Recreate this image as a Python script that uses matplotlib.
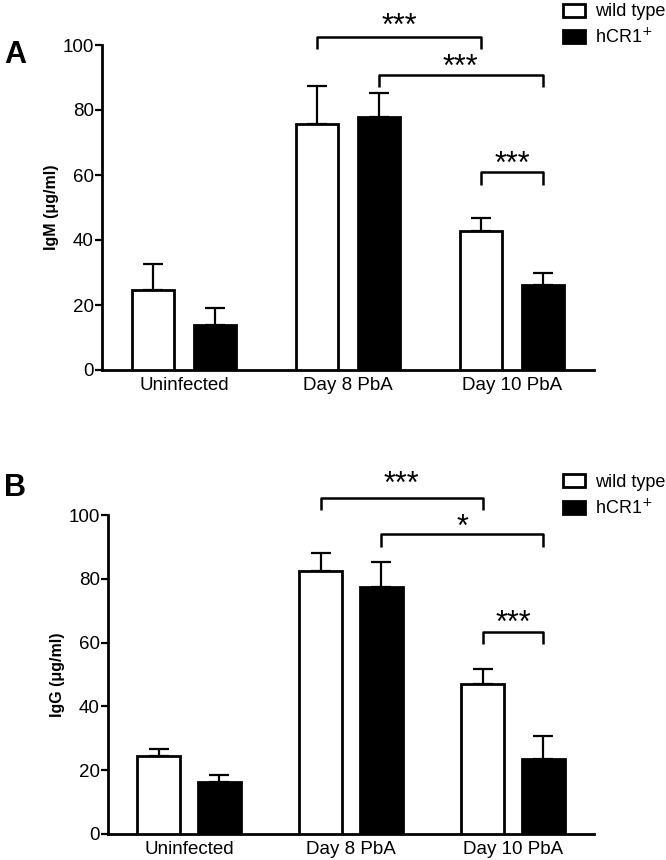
import matplotlib
matplotlib.use("Agg")
import matplotlib.pyplot as plt
import matplotlib.transforms as mtransforms
import numpy as np
from matplotlib.patches import Patch

plt.rcParams['font.family'] = ['Liberation Sans', 'DejaVu Sans']

categories = ["Uninfected", "Day 8 PbA", "Day 10 PbA"]
series = ["wild type", "hCR1$^{+}$"]

igm_wt = [24.6, 75.8, 42.9]
igm_wt_err = [8.0, 11.6, 3.8]
igm_hcr = [13.8, 77.9, 26.3]
igm_hcr_err = [5.4, 7.2, 3.4]

igg_wt = [24.5, 82.5, 47.0]
igg_wt_err = [2.3, 5.5, 4.7]
igg_hcr = [16.2, 77.3, 23.6]
igg_hcr_err = [2.2, 7.9, 7.2]

# significance annotations: (group_a, series_a, group_b, series_b, label)
sig_pairs = [(1, 0, 2, 0, "***"), (1, 1, 2, 1, "***"), (2, 0, 2, 1, "***")]
sig_pairs_b = [(1, 0, 2, 0, "***"), (1, 1, 2, 1, "*"), (2, 0, 2, 1, "***")]

W, H = 666, 860
fig = plt.figure(figsize=(W / 100, H / 100), dpi=100)
axA = fig.add_axes([102 / W, 1 - 370 / H, (594 - 102) / W, (370 - 45) / H])
axB = fig.add_axes([108 / W, 1 - 834 / H, (594 - 108) / W, (834 - 515) / H])

width = 0.26
offset = 0.188
lw = 2.0


def draw(ax, wt, wt_err, hcr, hcr_err, ylabel, sigs, levels, letter, letter_y, leg_y):
    x = np.arange(len(categories))
    xw = x - offset
    xh = x + offset
    ax.bar(xw, wt, width, color="white", edgecolor="black", linewidth=lw, zorder=3)
    ax.bar(xh, hcr, width, color="black", edgecolor="black", linewidth=lw, zorder=3)
    for xs, v, e in ((xw, wt, wt_err), (xh, hcr, hcr_err)):
        ax.errorbar(xs, v, yerr=[np.zeros(len(e)), e], fmt="none", ecolor="black",
                    elinewidth=1.6, capsize=7.5, capthick=1.6, zorder=2)
    pos = [xw, xh]
    star_tr = mtransforms.offset_copy(ax.transData, fig=fig, x=0, y=-6.5, units="dots")
    for (ga, sa, gb, sb, lab), (yb, yt, ytx) in zip(sigs, levels):
        x1 = pos[sa][ga]
        x2 = pos[sb][gb]
        ax.plot([x1, x1, x2, x2], [yt, yb, yb, yt], color="black", lw=1.8,
                clip_on=False, solid_capstyle="butt")
        ax.text((x1 + x2) / 2, ytx, lab, ha="center", va="center", fontsize=22,
                clip_on=False, transform=star_tr)
    ax.set_xlim(-0.5, 2.5)
    ax.set_ylim(0, 100)
    ax.set_yticks([0, 20, 40, 60, 80, 100])
    ax.set_xticks(x)
    ax.set_xticklabels(categories, fontsize=13.5)
    ax.tick_params(axis="x", length=0, pad=5)
    ax.tick_params(axis="y", labelsize=13.5, length=5, width=1.6, direction="out", pad=1)
    for s in ("top", "right"):
        ax.spines[s].set_visible(False)
    for s in ("left", "bottom"):
        ax.spines[s].set_linewidth(2.0)
    ax.set_ylabel(ylabel, fontsize=11.5, fontweight="bold", labelpad=2.5)
    handles = [Patch(facecolor="white", edgecolor="black", linewidth=lw),
               Patch(facecolor="black", edgecolor="black", linewidth=lw)]
    fig.legend(handles, series, loc="upper left", bbox_to_anchor=(563 / W, leg_y),
               frameon=False, fontsize=13, handlelength=1.2, handleheight=0.7,
               handletextpad=0.55, labelspacing=0.4, borderaxespad=0, borderpad=0)
    fig.text(0.006, letter_y, letter, fontsize=22, fontweight="bold",
             ha="left", va="center")


draw(axA, igm_wt, igm_wt_err, igm_hcr, igm_hcr_err, "IgM (\u03bcg/ml)", sig_pairs,
     [(102.5, 98.8, 107.7), (90.8, 87.1, 95.1), (60.9, 56.9, 65.2)], "A",
     1 - 55 / H, 1 - 3.5 / H)
draw(axB, igg_wt, igg_wt_err, igg_hcr, igg_hcr_err, "IgG (\u03bcg/ml)", sig_pairs_b,
     [(105.4, 101.6, 111.6), (93.9, 90.1, 97.9), (63.3, 59.5, 68.0)], "B",
     1 - 488 / H, 1 - 474 / H)

fig.savefig("out.png", dpi=100)
